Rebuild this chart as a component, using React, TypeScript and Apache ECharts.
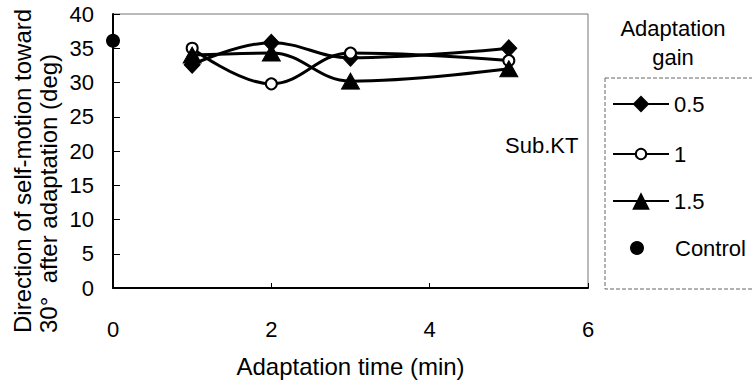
import React, { useEffect, useRef } from "react";
import * as echarts from "echarts";

const times = [1, 2, 3, 5];
const gain05 = [32.6, 35.8, 33.6, 35.0];
const gain1 = [35.0, 29.8, 34.3, 33.2];
const gain15 = [34.0, 34.3, 30.2, 32.0];
const controlTime = [0];
const controlValue = [36.1];
const seriesNames = ["0.5", "1", "1.5", "Control"];
const yTitleLines = ["Direction of self-motion toward", "30°  after adaptation (deg)"];
const xTitle = "Adaptation time (min)";
const legendTitle = ["Adaptation", "gain"];
const subjectLabel = "Sub.KT";

const FONT = "Liberation Sans";

export default function App() {
  const ref = useRef<HTMLDivElement>(null);
  useEffect(() => {
    if (!ref.current) return;
    const chart = echarts.init(ref.current, undefined, { renderer: "svg" });
    const mk = (vals: number[]) => times.map((t, i) => [t, vals[i]]);
    const lineBase = {
      type: "line",
      smooth: 0.4,
      lineStyle: { color: "#000", width: 3 },
      itemStyle: { color: "#000", borderColor: "#000" },
      z: 3,
    };
    const txt = (text: string, x: number, y: number, size: number, align = "center", rotation = 0) => ({
      type: "text",
      x,
      y,
      rotation,
      style: {
        text,
        fontFamily: FONT,
        fontSize: size,
        fill: "#000",
        align,
        verticalAlign: "middle",
      },
    });
    const legendItem = (
      name: string,
      center: number,
      itemHeight: number,
      left = 607,
      itemWidth = 56,
      textPad = 0
    ) => ({
      orient: "vertical",
      left,
      top: center - 14,
      itemWidth,
      itemHeight,
      itemGap: 0,
      data: [name],
      textStyle: { fontFamily: FONT, fontSize: 22, color: "#000", padding: [0, 0, 0, textPad] },
    });
    chart.setOption({
      animation: false,
      backgroundColor: "#fff",
      grid: {
        left: 113,
        right: 164,
        top: 14,
        bottom: 85,
        show: true,
        borderColor: "#777",
        borderWidth: 1,
        backgroundColor: "transparent",
      },
      xAxis: {
        type: "value",
        min: 0,
        max: 6,
        interval: 2,
        name: xTitle,
        nameLocation: "middle",
        nameGap: 66,
        nameTextStyle: { fontFamily: FONT, fontSize: 24, color: "#000" },
        axisLine: { show: true, onZero: false, lineStyle: { color: "#000", width: 2 } },
        axisTick: { show: true, inside: true, length: 5, lineStyle: { color: "#000" } },
        axisLabel: { margin: 30, fontFamily: FONT, fontSize: 22, color: "#000" },
        splitLine: { show: false },
      },
      yAxis: {
        type: "value",
        min: 0,
        max: 40,
        interval: 5,
        axisLine: { show: true, lineStyle: { color: "#000", width: 2 } },
        axisTick: { show: true, inside: true, length: 7, lineStyle: { color: "#000" } },
        axisLabel: { margin: 19, fontFamily: FONT, fontSize: 22, color: "#000" },
        splitLine: { show: false },
      },
      legend: [
        legendItem(seriesNames[0], 102, 21),
        legendItem(seriesNames[1], 152, 13),
        legendItem(seriesNames[2], 199, 22),
        legendItem(seriesNames[3], 246, 14, 625, 14, 26),
      ],
      graphic: [
        {
          type: "rect",
          shape: { x: 605, y: 78, width: 160, height: 211 },
          style: { fill: "none", stroke: "#666", lineWidth: 1, lineDash: [4, 2] },
        },
        txt(legendTitle[0], 673, 28, 22),
        txt(legendTitle[1], 673, 57, 22),
        txt(subjectLabel, 505, 145, 22, "left"),
        txt(yTitleLines[0], 22, 333, 24, "left", Math.PI / 2),
        txt(yTitleLines[1], 48, 333, 24, "left", Math.PI / 2),
      ],
      series: [
        {
          ...lineBase,
          name: seriesNames[0],
          data: mk(gain05),
          symbol: "diamond",
          symbolSize: [16, 17],
        },
        {
          ...lineBase,
          name: seriesNames[1],
          data: mk(gain1),
          symbol: "emptyCircle",
          symbolSize: 11,
          itemStyle: { color: "#000", borderColor: "#000", borderWidth: 2.5 },
        },
        {
          ...lineBase,
          name: seriesNames[2],
          data: mk(gain15),
          symbol: "triangle",
          symbolSize: [18, 16],
        },
        {
          type: "scatter",
          name: seriesNames[3],
          data: controlTime.map((t, i) => [t, controlValue[i]]),
          symbol: "circle",
          symbolSize: 14,
          itemStyle: { color: "#000", opacity: 1 },
          z: 4,
        },
      ],
    });
    return () => chart.dispose();
  }, []);
  return <div ref={ref} style={{ width: 752, height: 383, position: "absolute", left: 0, top: 0 }} />;
}
